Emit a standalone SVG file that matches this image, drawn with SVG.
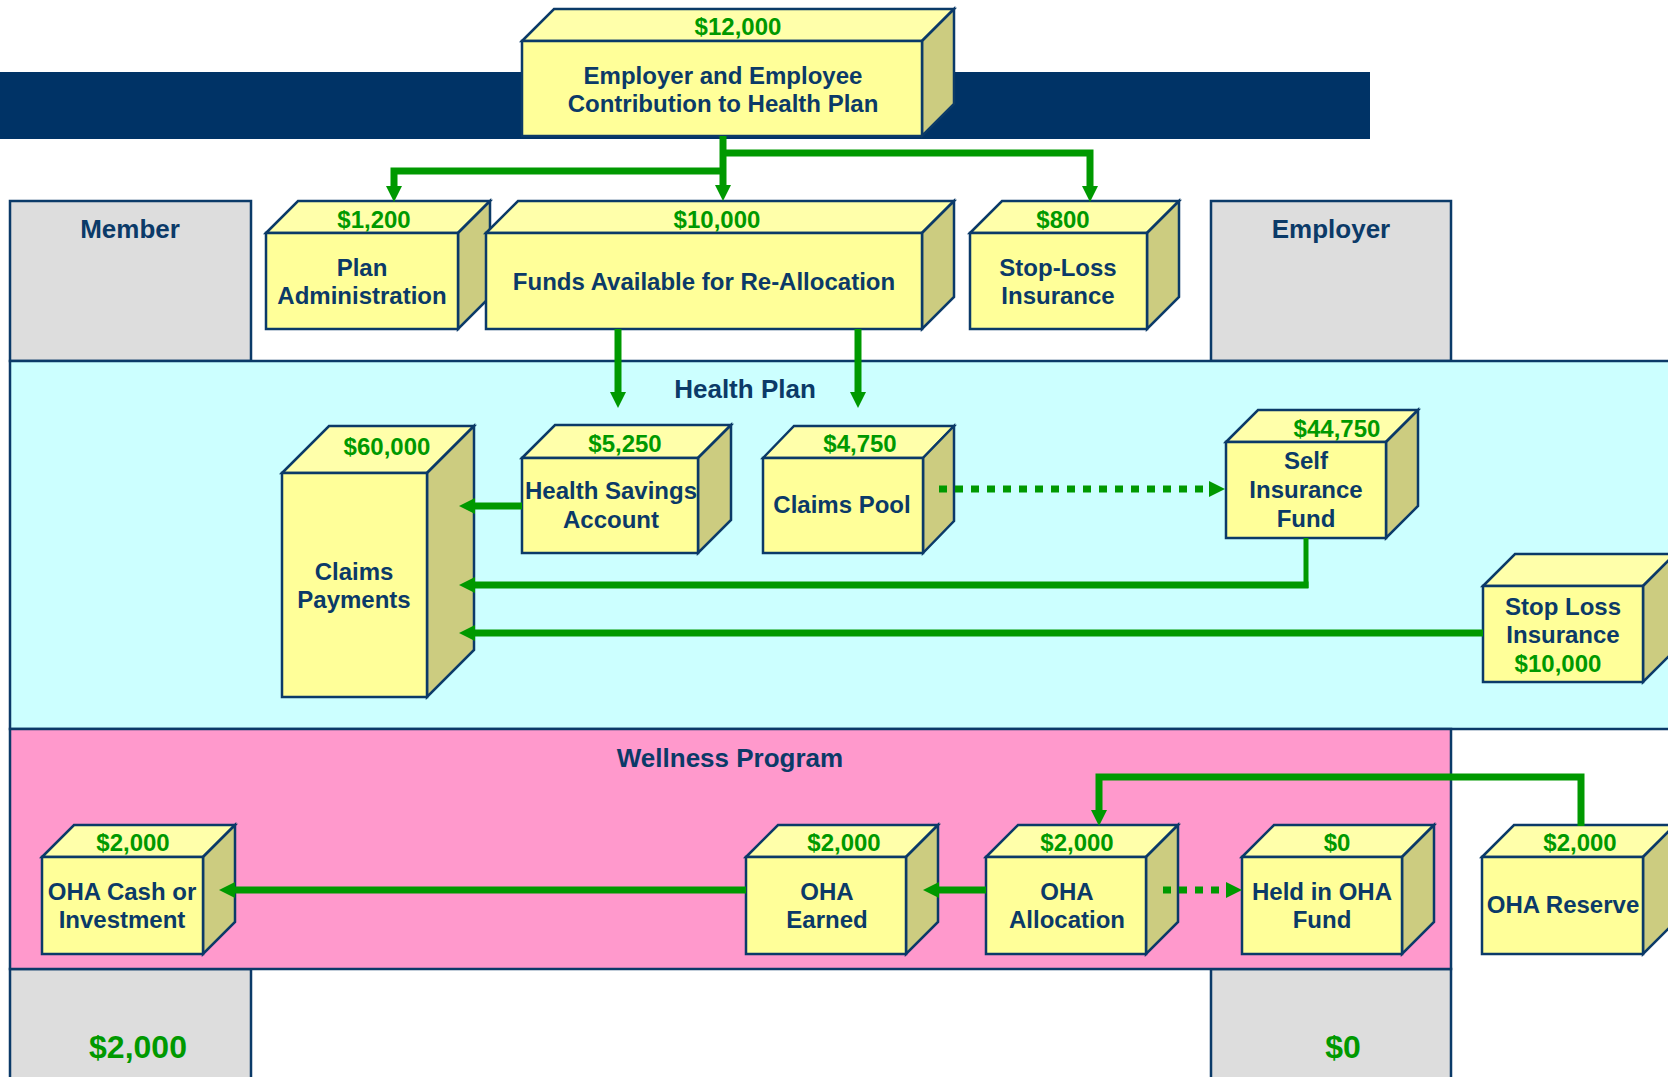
<svg xmlns="http://www.w3.org/2000/svg" width="1668" height="1077" viewBox="0 0 1668 1077">
<defs>
<style>
.front{fill:#FFFF99;stroke:#0B3A68;stroke-width:2.5;stroke-linejoin:miter}
.top{fill:#FFFFAA;stroke:#0B3A68;stroke-width:2.5;stroke-linejoin:miter}
.side{fill:#CCCC80;stroke:#0B3A68;stroke-width:2.5;stroke-linejoin:miter}
.grey{fill:#DDDDDD;stroke:#0B3A68;stroke-width:2.5}
.lbl{font-family:"Liberation Sans",Arial,sans-serif;font-weight:bold;font-size:24px;fill:#0B3A68;text-anchor:middle}
.val{font-family:"Liberation Sans",Arial,sans-serif;font-weight:bold;font-size:24px;fill:#009900;text-anchor:middle}
.hdr{font-family:"Liberation Sans",Arial,sans-serif;font-weight:bold;font-size:26px;fill:#0B3A68;text-anchor:middle}
.big{font-family:"Liberation Sans",Arial,sans-serif;font-weight:bold;font-size:32px;fill:#009900;text-anchor:middle}
.ln{fill:none;stroke:#009900;stroke-width:7;stroke-linejoin:miter;stroke-linecap:butt}
.dot{fill:none;stroke:#009900;stroke-width:7;stroke-dasharray:8 8}
</style>
<marker id="ah" viewBox="0 0 16 16" markerWidth="16" markerHeight="16" markerUnits="userSpaceOnUse" refX="0" refY="8" orient="auto">
<path d="M0,0 L16,8 L0,16 Z" fill="#009900"/>
</marker>
</defs>
<rect width="1668" height="1077" fill="#FFFFFF"/>

<g id="regions">
<rect x="0" y="72" width="1370" height="67" fill="#003366"/>
<g id="member-top"><rect class="grey" x="10" y="201" width="241" height="160"/><text class="hdr" x="130" y="238">Member</text></g>
<g id="employer-top"><rect class="grey" x="1211" y="201" width="240" height="160"/><text class="hdr" x="1331" y="238">Employer</text></g>
<g id="member-bottom"><rect class="grey" x="10" y="969" width="241" height="120"/><text class="big" x="138" y="1058">$2,000</text></g>
<g id="employer-bottom"><rect class="grey" x="1211" y="969" width="240" height="120"/><text class="big" x="1343" y="1058">$0</text></g>
<g id="health-plan"><rect x="10" y="361" width="1675" height="368" fill="#CCFFFF" stroke="#0B3A68" stroke-width="2.5"/><text class="hdr" x="745" y="398">Health Plan</text></g>
<g id="wellness"><rect x="10" y="729" width="1441" height="240" fill="#FF99CC" stroke="#0B3A68" stroke-width="2.5"/><text class="hdr" x="730" y="767">Wellness Program</text></g>
</g>

<g id="contribution">
<path class="top" d="M522,41 L554,9 L954,9 L922,41Z"/><path class="side" d="M922,41 L954,9 L954,104 L922,136Z"/><rect class="front" x="522" y="41" width="400" height="95"/>
<text class="val" x="738" y="35">$12,000</text>
<text class="lbl" x="723" y="84">Employer and Employee</text>
<text class="lbl" x="723" y="112">Contribution to Health Plan</text>
</g>
<g id="plan-admin">
<path class="top" d="M266,233 L298,201 L490,201 L458,233Z"/><path class="side" d="M458,233 L490,201 L490,297 L458,329Z"/><rect class="front" x="266" y="233" width="192" height="96"/>
<text class="val" x="374" y="228">$1,200</text>
<text class="lbl" x="362" y="276">Plan</text>
<text class="lbl" x="362" y="304">Administration</text>
</g>
<g id="funds">
<path class="top" d="M486,233 L518,201 L954,201 L922,233Z"/><path class="side" d="M922,233 L954,201 L954,297 L922,329Z"/><rect class="front" x="486" y="233" width="436" height="96"/>
<text class="val" x="717" y="228">$10,000</text>
<text class="lbl" x="704" y="290">Funds Available for Re-Allocation</text>
</g>
<g id="stop-loss-top">
<path class="top" d="M970,233 L1002,201 L1179,201 L1147,233Z"/><path class="side" d="M1147,233 L1179,201 L1179,297 L1147,329Z"/><rect class="front" x="970" y="233" width="177" height="96"/>
<text class="val" x="1063" y="228">$800</text>
<text class="lbl" x="1058" y="276">Stop-Loss</text>
<text class="lbl" x="1058" y="304">Insurance</text>
</g>
<g id="claims-payments">
<path class="top" d="M282,473 L329,426 L474,426 L427,473Z"/><path class="side" d="M427,473 L474,426 L474,650 L427,697Z"/><rect class="front" x="282" y="473" width="145" height="224"/>
<text class="val" x="387" y="455">$60,000</text>
<text class="lbl" x="354" y="580">Claims</text>
<text class="lbl" x="354" y="608">Payments</text>
</g>
<g id="hsa">
<path class="top" d="M522,458 L555,425 L731,425 L698,458Z"/><path class="side" d="M698,458 L731,425 L731,520 L698,553Z"/><rect class="front" x="522" y="458" width="176" height="95"/>
<text class="val" x="625" y="452">$5,250</text>
<text class="lbl" x="611" y="499">Health Savings</text>
<text class="lbl" x="611" y="528">Account</text>
</g>
<g id="claims-pool">
<path class="top" d="M763,458 L794,426 L954,426 L923,458Z"/><path class="side" d="M923,458 L954,426 L954,521 L923,553Z"/><rect class="front" x="763" y="458" width="160" height="95"/>
<text class="val" x="860" y="452">$4,750</text>
<text class="lbl" x="842" y="513">Claims Pool</text>
</g>
<g id="self-insurance">
<path class="top" d="M1226,442 L1258,410 L1418,410 L1386,442Z"/><path class="side" d="M1386,442 L1418,410 L1418,506 L1386,538Z"/><rect class="front" x="1226" y="442" width="160" height="96"/>
<text class="val" x="1337" y="437">$44,750</text>
<text class="lbl" x="1306" y="469">Self</text>
<text class="lbl" x="1306" y="498">Insurance</text>
<text class="lbl" x="1306" y="527">Fund</text>
</g>
<g id="stop-loss-insurance">
<path class="top" d="M1483,586 L1515,554 L1675,554 L1643,586Z"/><path class="side" d="M1643,586 L1675,554 L1675,650 L1643,682Z"/><rect class="front" x="1483" y="586" width="160" height="96"/>
<text class="lbl" x="1563" y="615">Stop Loss</text>
<text class="lbl" x="1563" y="643">Insurance</text>
<text class="val" x="1558" y="672">$10,000</text>
</g>
<g id="oha-cash">
<path class="top" d="M42,857 L74,825 L235,825 L203,857Z"/><path class="side" d="M203,857 L235,825 L235,922 L203,954Z"/><rect class="front" x="42" y="857" width="161" height="97"/>
<text class="val" x="133" y="851">$2,000</text>
<text class="lbl" x="122" y="900">OHA Cash or</text>
<text class="lbl" x="122" y="928">Investment</text>
</g>
<g id="oha-earned">
<path class="top" d="M746,857 L778,825 L938,825 L906,857Z"/><path class="side" d="M906,857 L938,825 L938,922 L906,954Z"/><rect class="front" x="746" y="857" width="160" height="97"/>
<text class="val" x="844" y="851">$2,000</text>
<text class="lbl" x="827" y="900">OHA</text>
<text class="lbl" x="827" y="928">Earned</text>
</g>
<g id="oha-allocation">
<path class="top" d="M986,857 L1018,825 L1178,825 L1146,857Z"/><path class="side" d="M1146,857 L1178,825 L1178,922 L1146,954Z"/><rect class="front" x="986" y="857" width="160" height="97"/>
<text class="val" x="1077" y="851">$2,000</text>
<text class="lbl" x="1067" y="900">OHA</text>
<text class="lbl" x="1067" y="928">Allocation</text>
</g>
<g id="held-oha">
<path class="top" d="M1242,857 L1274,825 L1434,825 L1402,857Z"/><path class="side" d="M1402,857 L1434,825 L1434,922 L1402,954Z"/><rect class="front" x="1242" y="857" width="160" height="97"/>
<text class="val" x="1337" y="851">$0</text>
<text class="lbl" x="1322" y="900">Held in OHA</text>
<text class="lbl" x="1322" y="928">Fund</text>
</g>
<g id="oha-reserve">
<path class="top" d="M1482,857 L1514,825 L1675,825 L1643,857Z"/><path class="side" d="M1643,857 L1675,825 L1675,922 L1643,954Z"/><rect class="front" x="1482" y="857" width="161" height="97"/>
<text class="val" x="1580" y="851">$2,000</text>
<text class="lbl" x="1563" y="913">OHA Reserve</text>
</g>

<g id="connectors">
<path class="ln" d="M723,136 V185" marker-end="url(#ah)"/>
<path class="ln" d="M723,153 H1090 V186" marker-end="url(#ah)"/>
<path class="ln" d="M723,171 H394 V186" marker-end="url(#ah)"/>
<path class="ln" d="M618,329 V392" marker-end="url(#ah)"/>
<path class="ln" d="M858,329 V392" marker-end="url(#ah)"/>
<path class="ln" d="M522,506 H475" marker-end="url(#ah)"/>
<path class="ln" d="M1306,538 V588" style="stroke-width:5"/>
<path class="ln" d="M1308.5,585 H475" marker-end="url(#ah)"/>
<path class="ln" d="M1483,633 H475" marker-end="url(#ah)"/>
<path class="dot" d="M939,489 H1209" marker-end="url(#ah)"/>
<path class="ln" d="M746,890 H235" marker-end="url(#ah)"/>
<path class="ln" d="M986,890 H939" marker-end="url(#ah)"/>
<path class="dot" d="M1163,890 H1226" marker-end="url(#ah)"/>
<path class="ln" d="M1581,826 V777 H1099 V810" marker-end="url(#ah)"/>
</g>
</svg>
